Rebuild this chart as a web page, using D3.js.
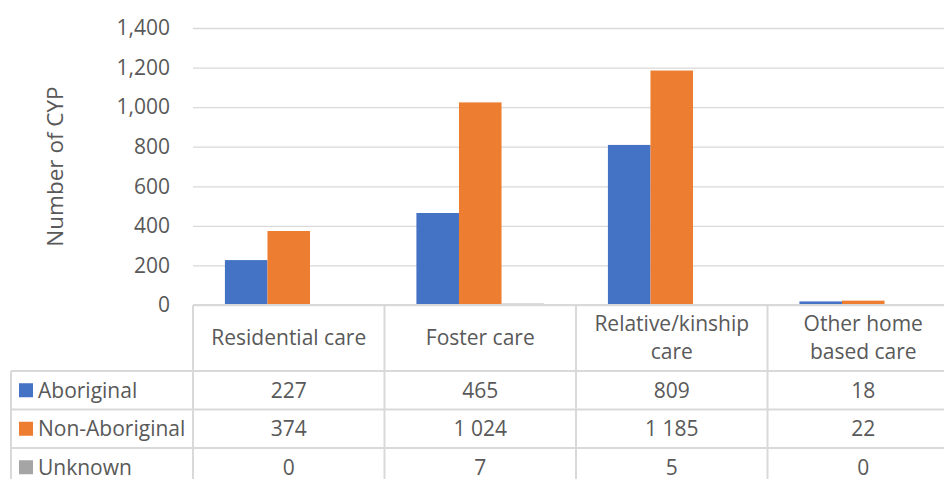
<!DOCTYPE html>
<html>
<head>
<meta charset="utf-8">
<script src="https://cdn.jsdelivr.net/npm/d3@7"></script>
<style>
  html, body { margin: 0; padding: 0; background: #fff; }
  svg { display: block; }
  text { font-family: "Open Sans", "Noto Sans", sans-serif; fill: #595959; }
</style>
</head>
<body>
<svg id="chart" width="944" height="479"></svg>
<script>
// Placement types (categories) and counts of children and young people per group
const categories = ["Residential care", "Foster care", "Relative/kinship care", "Other home based care"];
const categoryLines = [["Residential care"], ["Foster care"], ["Relative/kinship", "care"], ["Other home", "based care"]];
const seriesNames = ["Aboriginal", "Non-Aboriginal", "Unknown"];
const aboriginal = [227, 465, 809, 18];
const nonAboriginal = [374, 1024, 1185, 22];
const unknown = [0, 7, 5, 0];
const yTicks = [0, 200, 400, 600, 800, 1000, 1200, 1400];

const seriesValues = [aboriginal, nonAboriginal, unknown];
const colors = ["#4472C4", "#ED7D31", "#A5A5A5"];

const svg = d3.select("#chart");
const plot = { left: 193, right: 959, top: 28, bottom: 305 };
const tableLeft = 11;
const headerBottom = 371;
const rowH = 38.5;
const gridColor = "#D9D9D9";
const fontSize = 21;

const x = d3.scaleBand().domain(categories).range([plot.left, plot.right]).paddingInner(0).paddingOuter(0);
const xs = d3.scaleBand().domain(seriesNames).range([0, x.bandwidth()]).paddingInner(0).paddingOuter(0.75);
const y = d3.scaleLinear().domain([0, 1400]).range([plot.bottom, plot.top]);

// Horizontal gridlines and value axis labels
const yAxis = d3.axisLeft(y).tickValues(yTicks).tickFormat(d3.format(",")).tickSize(-(plot.right - plot.left)).tickPadding(23);
const gy = svg.append("g").attr("transform", `translate(${plot.left},0)`).call(yAxis);
gy.select(".domain").remove();
gy.selectAll(".tick line").attr("stroke", gridColor).attr("stroke-width", 1.3);
gy.selectAll(".tick text").attr("font-size", fontSize).attr("fill", "#595959")
  .style("font-family", '"Open Sans", sans-serif');

// Axis title
svg.append("text")
  .attr("transform", `translate(63,${(plot.top + plot.bottom) / 2}) rotate(-90)`)
  .attr("text-anchor", "middle")
  .attr("font-size", 22.5)
  .text("Number of CYP");

// Bars
const groups = svg.append("g").selectAll("g")
  .data(categories)
  .join("g")
  .attr("transform", d => `translate(${x(d)},0)`);

groups.selectAll("rect")
  .data((d, i) => seriesNames.map((s, j) => ({ s, v: seriesValues[j][i], c: colors[j] })))
  .join("rect")
  .attr("x", d => xs(d.s))
  .attr("width", xs.bandwidth())
  .attr("y", d => y(d.v))
  .attr("height", d => y(0) - y(d.v))
  .attr("fill", d => d.c);

// Data table below the plot
const lines = svg.append("g").attr("stroke", gridColor).attr("stroke-width", 2).attr("fill", "none");
// category axis line / table top
lines.append("line").attr("x1", plot.left).attr("x2", plot.right).attr("y1", plot.bottom).attr("y2", plot.bottom);
// horizontal row lines
for (let r = 0; r <= seriesNames.length; r++) {
  const yy = headerBottom + r * rowH;
  lines.append("line").attr("x1", tableLeft).attr("x2", plot.right).attr("y1", yy).attr("y2", yy);
}
// vertical column lines
categories.forEach(c => {
  lines.append("line").attr("x1", x(c)).attr("x2", x(c)).attr("y1", plot.bottom).attr("y2", 479);
});
lines.append("line").attr("x1", plot.right).attr("x2", plot.right).attr("y1", plot.bottom).attr("y2", 479);
lines.append("line").attr("x1", tableLeft).attr("x2", tableLeft).attr("y1", headerBottom).attr("y2", 479);

// Header row: category names
const headerMid = (plot.bottom + headerBottom) / 2;
categories.forEach((c, i) => {
  const ls = categoryLines[i];
  const t = svg.append("text")
    .attr("text-anchor", "middle")
    .attr("font-size", fontSize)
    .attr("x", x(c) + x.bandwidth() / 2);
  ls.forEach((l, k) => {
    t.append("tspan")
      .attr("x", x(c) + x.bandwidth() / 2)
      .attr("y", headerMid + (k - (ls.length - 1) / 2) * 28)
      .attr("dy", "0.35em")
      .text(l);
  });
});

// Value rows with legend keys
const tableFmt = d3.formatLocale({ decimal: ".", thousands: " ", grouping: [3], currency: ["", ""] }).format(",");
seriesNames.forEach((s, j) => {
  const cy = headerBottom + j * rowH + rowH / 2;
  svg.append("rect").attr("x", 19).attr("y", cy - 7).attr("width", 14).attr("height", 14).attr("fill", colors[j]);
  svg.append("text").attr("x", 38).attr("y", cy).attr("dy", "0.35em").attr("font-size", fontSize).text(s);
  categories.forEach((c, i) => {
    svg.append("text")
      .attr("x", x(c) + x.bandwidth() / 2)
      .attr("y", cy)
      .attr("dy", "0.35em")
      .attr("text-anchor", "middle")
      .attr("font-size", fontSize)
      .text(tableFmt(seriesValues[j][i]));
  });
});
</script>
</body>
</html>
